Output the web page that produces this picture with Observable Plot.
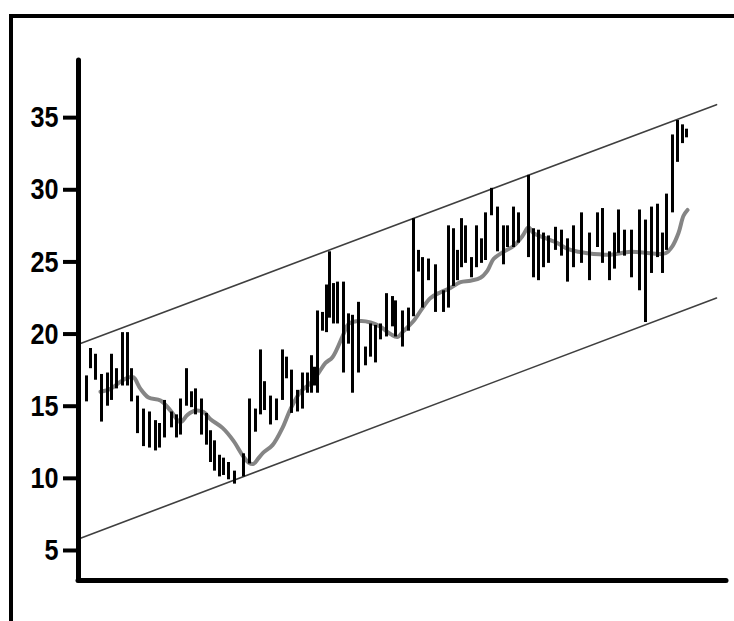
<!DOCTYPE html>
<html>
<head>
<meta charset="utf-8">
<script src="https://cdn.jsdelivr.net/npm/d3@7"></script>
<script src="https://cdn.jsdelivr.net/npm/@observablehq/plot@0.6"></script>
<style>
  html, body { margin: 0; padding: 0; background: #fff; overflow: hidden; }
  #wrap { position: relative; width: 734px; height: 621px; overflow: hidden; }
  #frame { position: absolute; left: 8.5px; top: 13.5px; right: -20px; bottom: -20px;
           border-top: 4px solid #000; border-left: 4px solid #000; pointer-events: none; }
</style>
</head>
<body>
<div id="wrap"><div id="frame"></div></div>
<script>
// Trading sessions (day offset from start) with high / low of each bar
const days = [1,8,12,17,23,29,33,38,44,49,53,59,65,71,77,81,86,93,98,102,108,113,117,123,128,132,136,141,145,150,156,165,171,177,182,186,192,198,204,208,213,219,224,229,233,236,239,244,248,251,255,259,265,270,274,280,287,292,297,302,308,314,317,324,330,335,340,344,350,357,365,370,375,379,383,387,393,398,403,407,413,419,425,429,435,440,450,455,460,465,470,477,483,489,495,503,511,519,524,531,536,540,546,553,561,567,573,579,584,588,594,599,604,608];
const highs = [16.8,17.1,19.0,18.6,17.2,17.3,18.6,17.6,20.1,20.1,17.6,15.7,14.8,14.6,14.0,13.8,15.4,14.6,14.4,15.5,17.6,16.0,16.2,15.5,14.5,13.3,12.6,11.6,11.4,11.1,10.5,11.7,15.5,14.8,18.9,16.7,15.7,15.5,18.9,18.4,17.5,16.1,17.3,17.3,18.5,17.7,21.6,21.5,23.4,25.7,23.5,23.6,23.6,21.4,21.3,22.2,19.1,20.7,20.6,20.7,22.8,22.6,22.3,21.6,21.8,28.0,25.8,25.3,25.2,24.8,23.0,27.5,27.3,25.8,28.0,27.5,25.3,27.5,26.6,28.4,30.1,28.8,27.5,27.5,28.8,28.4,31.0,27.3,27.2,27.0,26.8,27.4,27.2,26.6,27.5,28.4,27.0,28.4,28.7,25.7,27.0,28.6,27.2,27.2,28.6,27.9,28.8,29.0,27.0,29.7,33.8,34.8,34.5,34.2];
const lows = [15.3,15.3,17.6,16.8,13.9,15.0,15.4,16.2,16.4,16.4,15.3,13.1,12.2,12.1,11.9,12.1,12.8,13.5,12.8,13.0,15.0,14.9,14.4,13.0,12.3,11.1,10.5,10.1,10.2,9.9,9.6,10.1,11.0,13.2,14.4,14.7,13.7,14.0,15.4,16.9,14.5,14.6,14.8,15.9,15.9,16.4,15.9,20.2,20.1,21.1,20.7,20.7,17.3,19.3,15.9,17.3,17.8,18.4,18.0,19.6,19.8,20.5,19.8,19.1,20.2,21.2,24.3,21.8,23.7,21.5,21.5,21.8,23.3,23.7,24.6,24.9,23.9,24.6,24.9,25.1,28.2,25.7,24.8,26.0,26.0,26.3,25.3,23.9,23.7,24.6,24.9,25.8,25.4,23.6,24.6,24.9,23.7,26.0,24.9,23.7,24.5,25.6,25.4,23.9,23.0,20.8,24.2,25.3,24.2,25.8,28.4,31.9,33.2,33.6];

// Moving average
const maDays = [22,32,42,50,55,62,70,82,92,102,109,117,125,132,144,155,164,170,175,180,185,194,204,212,222,232,240,247,254,265,270,282,292,302,312,319,325,335,344,352,362,372,382,392,402,409,415,425,435,444,450,455,465,479,489,500,509,532,552,572,587,594,600,605,609];
const maValues = [16.0,16.2,16.7,17.0,17.0,16.2,15.6,15.4,14.7,13.9,14.4,14.7,14.6,14.1,13.5,12.6,11.6,11.1,11.0,11.4,11.8,12.3,13.5,14.8,16.0,16.6,17.3,18.0,18.4,20.0,20.7,20.9,20.8,20.5,20.0,19.8,20.2,20.9,21.8,22.5,22.9,23.2,23.6,23.7,23.9,24.4,25.2,25.7,26.1,26.8,27.4,27.0,26.7,26.3,25.9,25.7,25.6,25.5,25.7,25.6,25.6,26.1,27.0,28.2,28.6];

// Trend channel
const channelDays = [0, 638];
const upperChannel = [19.3, 35.9];
const lowerChannel = [5.8, 22.5];

const yTicks = [5, 10, 15, 20, 25, 30, 35];
const yDomain = [2.92, 38.96];
const xDomain = [0, 648];

const bars = days.map((d, i) => ({day: d, high: highs[i], low: lows[i]}));
const ma = maDays.map((d, i) => ({day: d, value: maValues[i]}));
const upper = channelDays.map((d, i) => ({day: d, value: upperChannel[i]}));
const lower = channelDays.map((d, i) => ({day: d, value: lowerChannel[i]}));

const chart = Plot.plot({
  width: 734,
  height: 621,
  marginLeft: 78,
  marginRight: 8,
  marginTop: 60,
  marginBottom: 41,
  x: {domain: xDomain, axis: null},
  y: {domain: yDomain, axis: null},
  style: {fontFamily: "'Liberation Sans', Arial, sans-serif", background: "transparent", overflow: "visible"},
  marks: [
    Plot.line(upper, {x: "day", y: "value", stroke: "#3f3f3f", strokeWidth: 1.6}),
    Plot.line(lower, {x: "day", y: "value", stroke: "#3f3f3f", strokeWidth: 1.6}),
    Plot.line(ma, {x: "day", y: "value", stroke: "#858585", strokeWidth: 4, curve: "catmull-rom"}),
    Plot.ruleX(bars, {x: "day", y1: "low", y2: "high", stroke: "#000", strokeWidth: 3}),
    Plot.axisY({ticks: yTicks, tickSize: 15, tickPadding: 5, strokeWidth: 4, fontSize: 30, fontWeight: "bold", fill: "#000", stroke: "#000"}),
    Plot.ruleX([xDomain[0]], {stroke: "#000", strokeWidth: 5, strokeLinecap: "round"}),
    Plot.ruleY([yDomain[0]], {stroke: "#000", strokeWidth: 5, strokeLinecap: "round"})
  ]
});
document.getElementById("wrap").insertBefore(chart, document.getElementById("frame"));

// Condense the bold tick labels horizontally (narrow Helvetica look), anchored at their right edge
chart.querySelectorAll("text").forEach(t => {
  const b = t.getBBox();
  const xr = b.x + b.width;
  const tr = t.getAttribute("transform") || "";
  t.setAttribute("transform", `${tr} translate(${xr},0) scale(0.84,1) translate(${-xr},0)`);
});
</script>
</body>
</html>
